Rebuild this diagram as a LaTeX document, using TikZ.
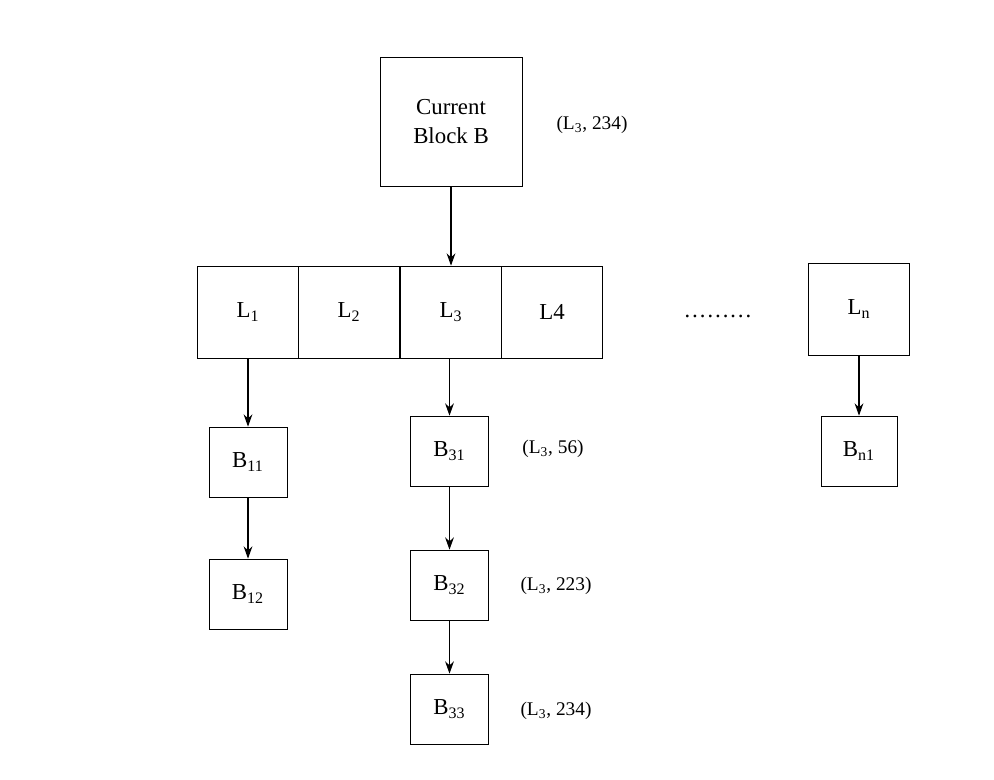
\documentclass[tikz,border=0pt]{standalone}
\usepackage{fontspec}
\setmainfont{Liberation Serif}
\usetikzlibrary{arrows.meta,positioning}
\tikzset{
    % Boxes
    blk/.style={draw,thin,inner sep=0pt,minimum width=#1},
    blk/.default=1.56cm,
    cell/.style={blk=2.02cm,minimum height=1.84cm},
    small/.style={blk=1.56cm,minimum height=1.4cm},
    %
    % Arrows
    arrow tip/.tip={Stealth[length=7pt,width=5pt]},
    arr/.style={->,>={arrow tip},semithick},
    tag/.style={font=\fontsize{11}{13}\selectfont}
}
\begin{document}
\begin{tikzpicture}[x=0.02cm,y=-0.02cm,font=\fontsize{13}{16}\selectfont]
    \useasboundingbox (0,0) rectangle (994,780);
    \node[draw,thin,minimum width=2.84cm,minimum height=2.58cm,align=center] (cur) at (451,121.5) {Current\\Block B};
    \node[tag] (tcur) at (592,125) {(L\textsubscript{3}, 234)};

    \node[cell] (l1) at (248,312) {L\textsubscript{1}};
    \node[cell] (l2) at (349,312) {L\textsubscript{2}};
    \node[cell] (l3) at (451,312) {L\textsubscript{3}};
    \node[cell] (l4) at (552,312) {L4};
    \node (dots) at (718,316) {\dots\dots\dots};
    \node[cell,minimum height=1.84cm] (ln) at (859,309) {L\textsubscript{n}};

    \node[small] (b11) at (248,462) {B\textsubscript{11}};
    \node[small] (b12) at (248,594) {B\textsubscript{12}};
    \node[small] (b31) at (449.5,451) {B\textsubscript{31}};
    \node[small] (b32) at (449.5,585) {B\textsubscript{32}};
    \node[small] (b33) at (449.5,709) {B\textsubscript{33}};
    \node[small,minimum width=1.52cm] (bn1) at (859,451) {B\textsubscript{n1}};

    \node[tag] (t31) at (553,449) {(L\textsubscript{3}, 56)};
    \node[tag] (t32) at (556,586) {(L\textsubscript{3}, 223)};
    \node[tag] (t33) at (556,711) {(L\textsubscript{3}, 234)};

    \draw[arr] (cur) -- (l3);
    \draw[arr] (l1) -- (b11);
    \draw[arr] (b11) -- (b12);
    \draw[arr] (l3.south -| b31) -- (b31);
    \draw[arr] (b31) -- (b32);
    \draw[arr] (b32) -- (b33);
    \draw[arr] (ln) -- (bn1);
\end{tikzpicture}
\end{document}
